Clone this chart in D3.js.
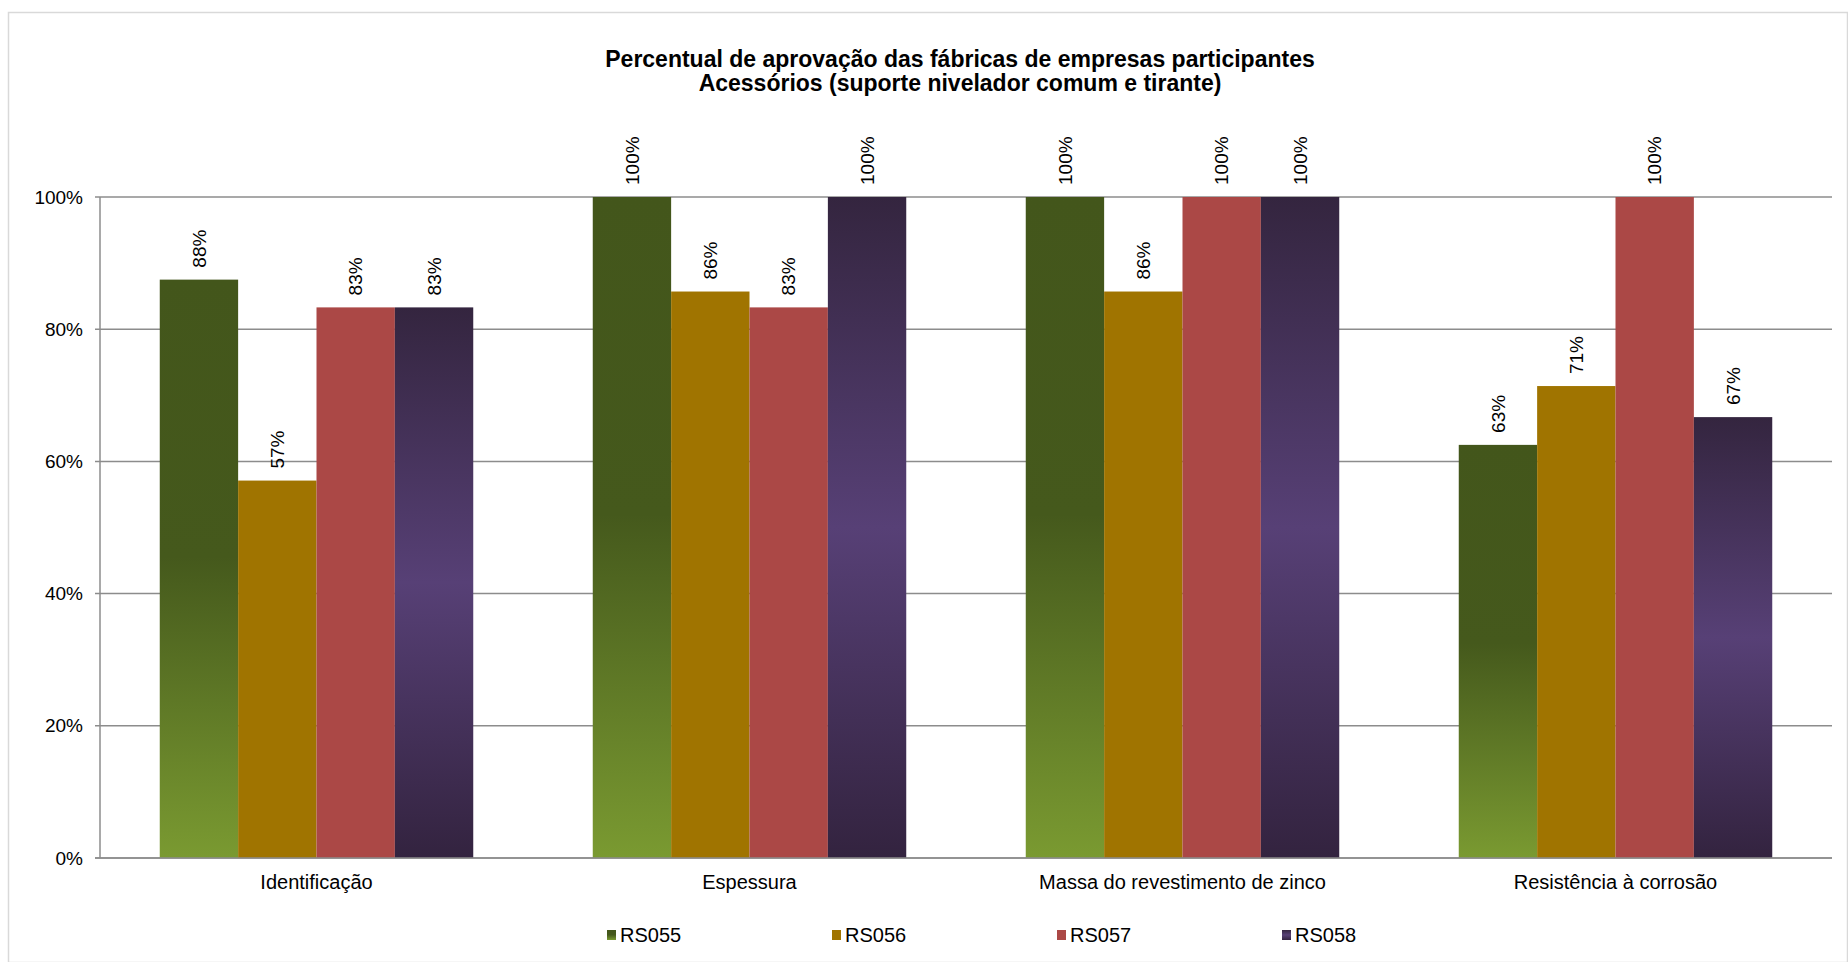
<!DOCTYPE html>
<html lang="pt">
<head>
    <meta charset="UTF-8">
    <title>Percentual de aprovação</title>
    <style>
        body, html {
            margin: 0;
            padding: 0;
            background: #ffffff;
            overflow: hidden;
        }
        svg {
            font-family: "Liberation Sans", Arial, sans-serif;
        }
        .grid line {
            stroke: #8c8c8c;
            stroke-width: 1.5px;
        }
        .tick-label, .value-label {
            font-size: 19px;
            fill: #000;
        }
        .cat-label, .legend-label {
            font-size: 20px;
            fill: #000;
        }
        .title {
            font-size: 23px;
            font-weight: bold;
            fill: #000;
        }
    </style>
</head>
<body>
    <div id="chart"></div>

    <script src="https://d3js.org/d3.v7.min.js"></script>
    <script>
        // data
        const categories = ['Identificação', 'Espessura', 'Massa do revestimento de zinco', 'Resistência à corrosão'];
        const series = ['RS055', 'RS056', 'RS057', 'RS058'];
        const RS055 = [0.875, 1.0, 1.0, 0.625];
        const RS056 = [0.571, 0.857, 0.857, 0.714];
        const RS057 = [0.833, 0.833, 1.0, 1.0];
        const RS058 = [0.833, 1.0, 1.0, 0.667];
        const yTicks = [0, 0.2, 0.4, 0.6, 0.8, 1.0];
        const titleLines = ['Percentual de aprovação das fábricas de empresas participantes',
                            'Acessórios  (suporte nivelador comum e tirante)'];

        const values = { RS055, RS056, RS057, RS058 };

        const width = 1848, height = 962;
        const margin = { top: 197, right: 16, bottom: 104, left: 100 };

        const svg = d3.select('#chart').append('svg')
            .attr('width', width)
            .attr('height', height);

        // gradients (per bar)
        const defs = svg.append('defs');
        const grads = {
            RS055: [[0, '#43561b'], [0.48, '#45591c'], [1, '#7a9a31']],
            RS056: [[0, '#a07400'], [1, '#a07400']],
            RS057: [[0, '#ab4846'], [1, '#ab4846']],
            RS058: [[0, '#34253f'], [0.5, '#574076'], [1, '#33233f']]
        };
        series.forEach(s => {
            const g = defs.append('linearGradient')
                .attr('id', 'grad-' + s)
                .attr('x1', 0).attr('y1', 0).attr('x2', 0).attr('y2', 1);
            grads[s].forEach(st => {
                g.append('stop').attr('offset', st[0]).attr('stop-color', st[1]);
            });
        });

        // outer frame
        svg.append('rect')
            .attr('x', 8.5).attr('y', 12.5)
            .attr('width', width - 9).attr('height', height - 12)
            .attr('fill', 'none')
            .attr('stroke', '#d9d9d9')
            .attr('stroke-width', 1.5);

        // title
        svg.append('g').selectAll('text')
            .data(titleLines)
            .enter().append('text')
            .attr('class', 'title')
            .attr('x', 960)
            .attr('y', (d, i) => 67 + i * 23.5)
            .attr('text-anchor', 'middle')
            .text(d => d);

        const x0 = d3.scaleBand()
            .domain(categories)
            .range([margin.left, width - margin.right]);

        const x1 = d3.scaleBand()
            .domain(series)
            .range([x0.bandwidth() * 0.138, x0.bandwidth() * 0.862]);

        const y = d3.scaleLinear()
            .domain([0, 1])
            .range([height - margin.bottom, margin.top]);

        // gridlines
        svg.append('g')
            .attr('class', 'grid')
            .selectAll('line')
            .data(yTicks)
            .enter().append('line')
            .attr('x1', margin.left - 5)
            .attr('x2', width - margin.right)
            .attr('y1', d => y(d))
            .attr('y2', d => y(d));

        // y axis line
        svg.append('line')
            .attr('x1', margin.left).attr('x2', margin.left)
            .attr('y1', y(1)).attr('y2', y(0))
            .attr('stroke', '#8c8c8c')
            .attr('stroke-width', 1.5);

        svg.append('g').selectAll('text')
            .data(yTicks)
            .enter().append('text')
            .attr('class', 'tick-label')
            .attr('x', margin.left - 17)
            .attr('y', d => y(d))
            .attr('dy', '0.35em')
            .attr('text-anchor', 'end')
            .text(d => d3.format('.0%')(d));

        // bars
        const group = svg.append('g').selectAll('g')
            .data(categories)
            .enter().append('g')
            .attr('transform', d => `translate(${x0(d)},0)`);

        group.selectAll('rect')
            .data((c, i) => series.map(s => ({ s: s, v: values[s][i] })))
            .enter().append('rect')
            .attr('x', d => x1(d.s))
            .attr('y', d => y(d.v))
            .attr('width', x1.bandwidth())
            .attr('height', d => y(0) - y(d.v))
            .attr('fill', d => `url(#grad-${d.s})`);

        group.selectAll('text')
            .data((c, i) => series.map(s => ({ s: s, v: values[s][i] })))
            .enter().append('text')
            .attr('class', 'value-label')
            .attr('transform', d => `translate(${x1(d.s) + x1.bandwidth() / 2},${y(d.v) - 12}) rotate(-90)`)
            .attr('dy', '0.35em')
            .text(d => d3.format('.0%')(d.v));

        // x axis baseline on top of bars
        svg.append('line')
            .attr('x1', margin.left - 5).attr('x2', width - margin.right)
            .attr('y1', y(0)).attr('y2', y(0))
            .attr('stroke', '#8c8c8c')
            .attr('stroke-width', 1.5);

        // category labels
        svg.append('g').selectAll('text')
            .data(categories)
            .enter().append('text')
            .attr('class', 'cat-label')
            .attr('x', d => x0(d) + x0.bandwidth() / 2)
            .attr('y', y(0) + 31)
            .attr('text-anchor', 'middle')
            .text(d => d);

        // legend
        const legend = svg.append('g').selectAll('g')
            .data(series)
            .enter().append('g')
            .attr('transform', (d, i) => `translate(${607 + i * 225},935)`);

        legend.append('rect')
            .attr('x', 0).attr('y', -5)
            .attr('width', 9).attr('height', 10)
            .attr('fill', d => `url(#grad-${d})`);

        legend.append('text')
            .attr('class', 'legend-label')
            .attr('x', 13)
            .attr('dy', '0.35em')
            .text(d => d);
    </script>
</body>
</html>
